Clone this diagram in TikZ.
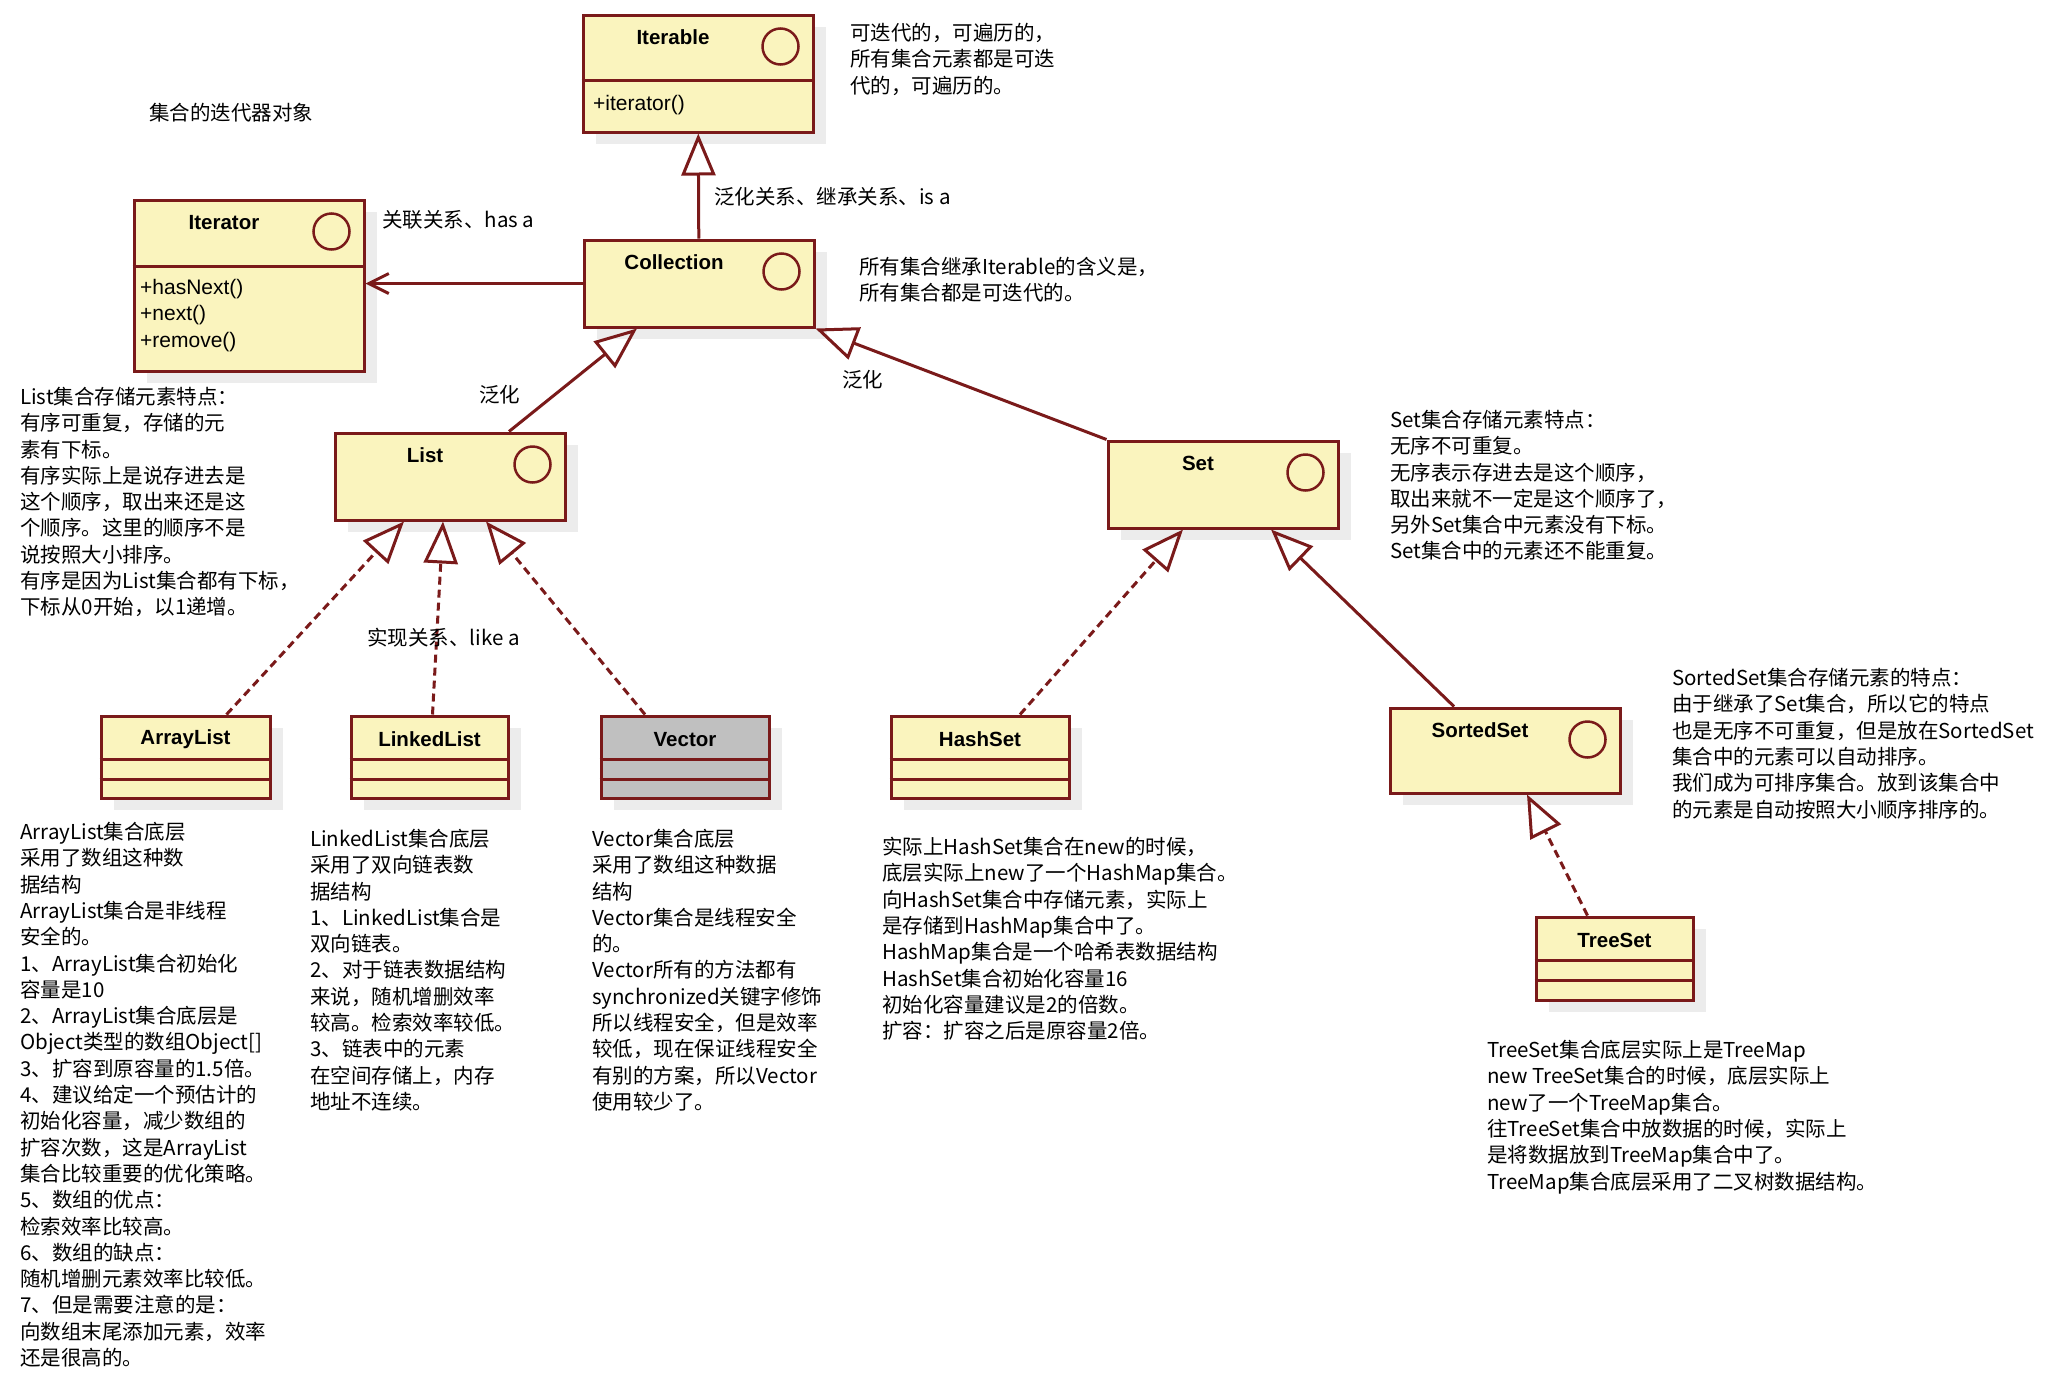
\documentclass[tikz,border=0pt]{standalone}
\usepackage{fontspec}
\setmainfont{Noto Sans CJK SC}
\newfontfamily\latinfont{Liberation Sans}
\usetikzlibrary{arrows.meta,shadows}

\definecolor{umlred}{RGB}{122,26,26}
\definecolor{umlyellow}{RGB}{250,244,190}
\definecolor{umlgray}{RGB}{192,192,192}
\definecolor{shadowgray}{RGB}{236,236,236}

\begin{document}
\begin{tikzpicture}[
    x=1pt, y=-1pt,
    umlbox/.style={draw=umlred, line width=3pt, fill=umlyellow, inner sep=0pt,
                   anchor=north west,
                   drop shadow={shadow xshift=13pt, shadow yshift=-12pt,
                                fill=shadowgray, opacity=1}},
    iface/.style={umlbox, minimum width=230pt, minimum height=87pt},
    cls/.style={umlbox, minimum height=82pt},
    ring/.style={draw=umlred, line width=2.5pt, circle, minimum size=36pt, inner sep=0pt},
    title/.style={font=\latinfont\bfseries\fontsize{20.5}{24}\selectfont, inner sep=0pt},
    member/.style={font=\latinfont\fontsize{21}{26.5}\selectfont, align=left,
                   anchor=north west, inner sep=0pt},
    sep/.style={draw=umlred, line width=3pt},
    note/.style={font=\fontsize{20.5}{26.3}\selectfont, align=left,
                 anchor=north west, inner sep=0pt},
    gen/.style={draw=umlred, line width=3pt, -{Triangle[open, length=42pt, width=34pt]}},
    real/.style={gen, dash pattern=on 8pt off 5pt},
    assoc/.style={draw=umlred, line width=3pt, -{Straight Barb[length=20pt, width=20pt]}}
  ]
  \useasboundingbox[fill=white] (0,0) rectangle (2063,1387);

  % interfaces
  \node[iface, minimum height=117pt] (iterable)   at (581.5,13.5)  {};
  \node[iface, minimum height=171pt] (iterator)   at (132.5,198.5) {};
  \node[iface]                       (collection) at (582.5,238.5) {};
  \node[iface]                       (list)       at (333.5,431.5) {};
  \node[iface]                       (set)        at (1106.5,439.5) {};
  \node[iface, minimum height=85pt]  (sortedset)  at (1388.5,706.5) {};

  \foreach \c/\t in {iterable/Iterable, iterator/Iterator, collection/Collection,
                     list/List, set/Set, sortedset/SortedSet} {
    \node[title] (\c T) at ([xshift=-25pt, yshift=-24pt]\c.north) {\t};
    \node[ring]  (\c O) at ([xshift=-34pt, yshift=-33pt]\c.north east) {};
  }
  \draw[sep] ([yshift=-67pt]iterable.north west) -- ([yshift=-67pt]iterable.north east);
  \draw[sep] ([yshift=-68pt]iterator.north west) -- ([yshift=-68pt]iterator.north east);
  \node[member] (iterableM) at (593,95)  {+iterator()};
  \node[member] (iteratorM) at (140,279) {+hasNext()\\+next()\\+remove()};

  % classes
  \node[cls, minimum width=169pt] (arraylist)  at (99.5,714.5)  {};
  \node[cls, minimum width=157pt] (linkedlist) at (349.5,714.5) {};
  \node[cls, minimum width=168pt, fill=umlgray] (vector) at (599.5,714.5) {};
  \node[cls, minimum width=178pt] (hashset)    at (889.5,714.5) {};
  \node[cls, minimum width=157pt, minimum height=83pt] (treeset) at (1534.5,915.5) {};

  \foreach \c/\t in {arraylist/ArrayList, linkedlist/LinkedList, vector/Vector,
                     hashset/HashSet, treeset/TreeSet} {
    \node[title] (\c T) at ([yshift=-25pt]\c.north) {\t};
    \draw[sep] ([yshift=-45pt]\c.north west) -- ([yshift=-45pt]\c.north east);
    \draw[sep] ([yshift=-65pt]\c.north west) -- ([yshift=-65pt]\c.north east);
  }

  % relations
  \draw[gen]   (collection) -- (iterable);
  \draw[assoc] (collection.west) -- (collection.west -| iterator.east);
  \draw[gen]   ([xshift=59pt]list.north) -- ([xshift=-62pt]collection.south);
  \draw[gen]   (set.north west) -- (collection.south east);
  \draw[real]  ([xshift=41pt]arraylist.north) -- ([xshift=-46pt]list.south);
  \draw[real]  ([xshift=3pt]linkedlist.north) -- ([xshift=-7pt]list.south);
  \draw[real]  ([xshift=-40pt]vector.north) -- ([xshift=36pt]list.south);
  \draw[real]  ([xshift=40pt]hashset.north) -- ([xshift=-40pt]set.south);
  \draw[gen]   ([xshift=-51pt]sortedset.north) -- ([xshift=48pt]set.south);
  \draw[real]  ([xshift=-27pt]treeset.north) -- ([xshift=22pt]sortedset.south);

  % labels
  \node[note] (isa)     at (714,187) {泛化关系、继承关系、is a};
  \node[note] (hasa)    at (382,210) {关联关系、has a};
  \node[note] (genlist) at (479,385) {泛化};
  \node[note] (genset)  at (842,370) {泛化};
  \node[note] (likea)   at (367,628) {实现关系、like a};
  \node[note] (itobj)   at (149,103) {集合的迭代器对象};

  % notes
  \node[note] (iterableN) at (850,23) {可迭代的，可遍历的，\\所有集合元素都是可迭\\代的，可遍历的。};
  \node[note] (collectionN) at (859,257) {所有集合继承Iterable的含义是，\\所有集合都是可迭代的。};
  \node[note] (listN) at (20,387) {List集合存储元素特点：\\有序可重复，存储的元\\素有下标。\\有序实际上是说存进去是\\这个顺序，取出来还是这\\个顺序。这里的顺序不是\\说按照大小排序。\\有序是因为List集合都有下标，\\下标从0开始，以1递增。};
  \node[note] (setN) at (1390,410) {Set集合存储元素特点：\\无序不可重复。\\无序表示存进去是这个顺序，\\取出来就不一定是这个顺序了，\\另外Set集合中元素没有下标。\\Set集合中的元素还不能重复。};
  \node[note] (sortedsetN) at (1672,668) {SortedSet集合存储元素的特点：\\由于继承了Set集合，所以它的特点\\也是无序不可重复，但是放在SortedSet\\集合中的元素可以自动排序。\\我们成为可排序集合。放到该集合中\\的元素是自动按照大小顺序排序的。};
  \node[note] (arraylistN) at (20,822) {ArrayList集合底层\\采用了数组这种数\\据结构\\ArrayList集合是非线程\\安全的。\\1、ArrayList集合初始化\\容量是10\\2、ArrayList集合底层是\\Object类型的数组Object[]\\3、扩容到原容量的1.5倍。\\4、建议给定一个预估计的\\初始化容量，减少数组的\\扩容次数，这是ArrayList\\集合比较重要的优化策略。\\5、数组的优点：\\检索效率比较高。\\6、数组的缺点：\\随机增删元素效率比较低。\\7、但是需要注意的是：\\向数组末尾添加元素，效率\\还是很高的。};
  \node[note] (linkedlistN) at (310,829) {LinkedList集合底层\\采用了双向链表数\\据结构\\1、LinkedList集合是\\双向链表。\\2、对于链表数据结构\\来说，随机增删效率\\较高。检索效率较低。\\3、链表中的元素\\在空间存储上，内存\\地址不连续。};
  \node[note] (vectorN) at (592,829) {Vector集合底层\\采用了数组这种数据\\结构\\Vector集合是线程安全\\的。\\Vector所有的方法都有\\synchronized关键字修饰\\所以线程安全，但是效率\\较低，现在保证线程安全\\有别的方案，所以Vector\\使用较少了。};
  \node[note] (hashsetN) at (882,837) {实际上HashSet集合在new的时候，\\底层实际上new了一个HashMap集合。\\向HashSet集合中存储元素，实际上\\是存储到HashMap集合中了。\\HashMap集合是一个哈希表数据结构\\HashSet集合初始化容量16\\初始化容量建议是2的倍数。\\扩容：扩容之后是原容量2倍。};
  \node[note] (treesetN) at (1487,1040) {TreeSet集合底层实际上是TreeMap\\new TreeSet集合的时候，底层实际上\\new了一个TreeMap集合。\\往TreeSet集合中放数据的时候，实际上\\是将数据放到TreeMap集合中了。\\TreeMap集合底层采用了二叉树数据结构。};
\end{tikzpicture}
\end{document}
